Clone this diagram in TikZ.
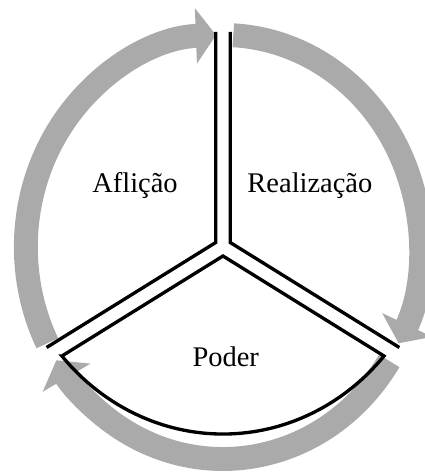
\documentclass[tikz,border=0pt]{standalone}
\usepackage{fontspec}
\setmainfont{Liberation Serif}
\usetikzlibrary{arrows.meta}
\definecolor{cyclegray}{RGB}{170,170,170}
\begin{document}
\begin{tikzpicture}[x=0.0186cm, y=0.02cm, every node/.style={font=\fontsize{16.2}{19}\selectfont}]
\tikzset{cyclearc/.style={draw=cyclegray,line width=13.6pt,-{Triangle[length=11.5pt,width=31pt]}},
  divider/.style={draw,line width=1.9pt,line join=miter}}
\useasboundingbox (-239.8,-228) rectangle (217.2,247);
% outer cycle
\draw[cyclearc] (207:212) arc[start angle=207,end angle=92,radius=212];
\draw[cyclearc] (87:212) arc[start angle=87,end angle=-27,radius=212];
\draw[cyclearc] (-32.5:212) arc[start angle=-32.5,end angle=-147.7,radius=212];
% sectors
\coordinate (afl-top) at (-7.8,215);
\coordinate (afl-in) at (-7.8,4.5);
\coordinate (afl-out) at (-189.7,-100.5);
\coordinate (rea-top) at (7.8,215);
\coordinate (rea-in) at (7.8,4.5);
\coordinate (rea-out) at (189.7,-100.5);
\coordinate (pod-left) at (-173.2,-109);
\coordinate (pod-in) at (0,-9);
\coordinate (pod-right) at (173.2,-109);
\draw[divider] (afl-top) -- (afl-in) -- (afl-out);
\draw[divider] (rea-top) -- (rea-in) -- (rea-out);
\draw[divider] (pod-left) -- (pod-in) -- (pod-right) arc[start angle=318.5,end angle=221.5,radius=231.3] -- cycle;
\node[anchor=base] (aflicao) at (-94.6,54) {Aflição};
\node[anchor=base] (realizacao) at (93.5,54) {Realização};
\node[anchor=base] (poder) at (3,-120) {Poder};
\end{tikzpicture}
\end{document}
